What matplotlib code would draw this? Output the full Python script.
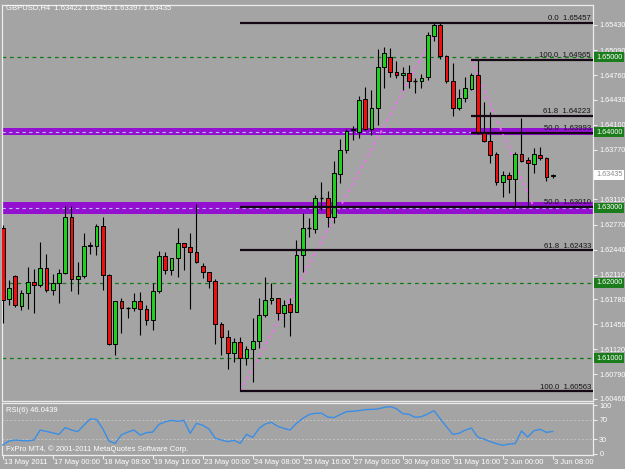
import matplotlib
matplotlib.use('Agg')
import matplotlib.pyplot as plt
from matplotlib.patches import Rectangle
import matplotlib.transforms as mtransforms

plt.rcParams['font.family'] = ['Liberation Sans', 'DejaVu Sans']

# ---------------- data ----------------
opens = [1.62729, 1.61786, 1.62088, 1.61697, 1.61870, 1.62008, 1.61972, 1.62194, 1.61902, 1.61995,
         1.62135, 1.62871, 1.62056, 1.62088, 1.62491, 1.62491, 1.62757, 1.62109, 1.61185, 1.61757,
         1.61672, 1.61664, 1.61757, 1.61657, 1.61514, 1.61893, 1.62353, 1.62167, 1.62327, 1.62526,
         1.62473, 1.62414, 1.62225, 1.62141, 1.62030, 1.61450, 1.61286, 1.61073, 1.61212, 1.60999,
         1.61122, 1.61225, 1.61574, 1.61773, 1.61797, 1.61604, 1.61720, 1.61618, 1.62371, 1.62725,
         1.62712, 1.63134, 1.63134, 1.62871, 1.63446, 1.63761, 1.64031, 1.64000, 1.64438, 1.64044,
         1.64319, 1.64871, 1.64996, 1.64797, 1.64757, 1.64788, 1.64685, 1.64677, 1.64738, 1.65283,
         1.65425, 1.65017, 1.64685, 1.64327, 1.64460, 1.64575, 1.64761, 1.63987, 1.63885, 1.63708,
         1.63336, 1.63433, 1.63380, 1.63708, 1.63629, 1.63579, 1.63699, 1.63655, 1.63422]
highs = [1.62769, 1.62039, 1.62105, 1.61906, 1.62215, 1.62185, 1.62547, 1.62384, 1.62121, 1.62181,
         1.63021, 1.63021, 1.62282, 1.62659, 1.62547, 1.62785, 1.62871, 1.62121, 1.61757, 1.61797,
         1.61684, 1.61866, 1.61883, 1.61707, 1.61995, 1.62424, 1.62414, 1.62335, 1.62736, 1.62530,
         1.62659, 1.63048, 1.62260, 1.62145, 1.62048, 1.61485, 1.61371, 1.61270, 1.61278, 1.61166,
         1.61530, 1.61797, 1.62082, 1.61995, 1.61800, 1.61773, 1.61800, 1.62570, 1.62924, 1.62858,
         1.63167, 1.63344, 1.63221, 1.63619, 1.63907, 1.64040, 1.64084, 1.64482, 1.64606, 1.64562,
         1.65102, 1.65137, 1.65116, 1.64947, 1.64863, 1.64894, 1.64717, 1.64774, 1.65336, 1.65448,
         1.65457, 1.65030, 1.64924, 1.64575, 1.64738, 1.64792, 1.64965, 1.64406, 1.64274, 1.63743,
         1.63490, 1.63477, 1.63743, 1.64186, 1.63676, 1.63788, 1.63809, 1.63676, 1.63453]
lows = [1.61468, 1.61707, 1.61684, 1.61640, 1.61650, 1.61600, 1.61950, 1.61883, 1.61839, 1.61733,
        1.62114, 1.61893, 1.61852, 1.62061, 1.62384, 1.62371, 1.61906, 1.61175, 1.61043, 1.61339,
        1.61530, 1.61626, 1.61308, 1.61441, 1.61375, 1.61862, 1.62114, 1.62105, 1.62082, 1.62171,
        1.61650, 1.62264, 1.62069, 1.61939, 1.61189, 1.61043, 1.60853, 1.60954, 1.60563, 1.60910,
        1.60688, 1.61132, 1.61551, 1.61720, 1.61507, 1.61418, 1.61299, 1.61614, 1.62145, 1.62614,
        1.62667, 1.62969, 1.62746, 1.62792, 1.63331, 1.63729, 1.63898, 1.63920, 1.64030, 1.63964,
        1.64097, 1.64588, 1.64738, 1.64725, 1.64562, 1.64584, 1.64518, 1.64584, 1.64695, 1.65217,
        1.64969, 1.64659, 1.64217, 1.64296, 1.64406, 1.64562, 1.63975, 1.63875, 1.63588, 1.63300,
        1.63145, 1.63198, 1.63013, 1.63610, 1.63013, 1.63456, 1.63632, 1.63357, 1.63397]
closes = [1.61773, 1.61936, 1.61703, 1.61870, 1.62008, 1.61972, 1.62194, 1.61902, 1.61995, 1.62135,
          1.62871, 1.62056, 1.62088, 1.62491, 1.62501, 1.62757, 1.62109, 1.61185, 1.61757, 1.61664,
          1.61668, 1.61757, 1.61650, 1.61514, 1.61893, 1.62353, 1.62167, 1.62327, 1.62526, 1.62473,
          1.62414, 1.62273, 1.62141, 1.62030, 1.61450, 1.61286, 1.61073, 1.61212, 1.60999, 1.61122,
          1.61225, 1.61574, 1.61773, 1.61797, 1.61604, 1.61707, 1.61618, 1.62371, 1.62725, 1.62729,
          1.63134, 1.63136, 1.62871, 1.63460, 1.63761, 1.64017, 1.64044, 1.64429, 1.64044, 1.64319,
          1.64871, 1.65049, 1.64797, 1.64757, 1.64788, 1.64685, 1.64691, 1.64725, 1.65292, 1.65425,
          1.65017, 1.64685, 1.64327, 1.64460, 1.64584, 1.64761, 1.63987, 1.63885, 1.63699, 1.63336,
          1.63433, 1.63380, 1.63708, 1.63623, 1.63596, 1.63708, 1.63655, 1.63410, 1.63435]
rsi = [17.7, 26, 28, 27, 26.5, 28, 49, 46, 43, 40,
       54, 49, 45.5, 59, 72, 71, 52, 26, 21, 39,
       44.5, 49, 38.5, 43.4, 44.6, 60.6, 66, 69, 67, 69,
       42, 62.8, 59, 51, 32, 28, 24.7, 27.5, 21.2, 40,
       33.6, 52, 61.4, 65, 56.6, 52.4, 49, 62.8, 73, 81,
       83.7, 84, 76, 74.7, 81, 87.2, 88, 89.3, 91.4, 92,
       92.7, 96, 97.6, 93.4, 83, 81.6, 75.3, 76.7, 82.3, 89.3,
       72.6, 56, 40, 42, 48.8, 53, 34.3, 30, 24.7, 20.5,
       17, 19.8, 20.5, 47, 34.3, 47.6, 50.4, 44, 46.04]

time_labels = ["13 May 2011", "17 May 00:00", "18 May 08:00", "19 May 16:00", "23 May 00:00",
               "24 May 08:00", "25 May 16:00", "27 May 00:00", "30 May 08:00", "31 May 16:00",
               "2 Jun 00:00", "3 Jun 08:00"]
price_ticks = [1.65430, 1.65090, 1.64760, 1.64430, 1.64100, 1.63770, 1.63110, 1.62770,
               1.62440, 1.62110, 1.61780, 1.61450, 1.61120, 1.60790, 1.60460]
level_tags = [1.65, 1.64, 1.63, 1.62, 1.61]
current_price = 1.63435
rsi_ticks = [100, 70, 30, 0]

fib1_levels = [0.0, 50.0, 61.8, 100.0]
fib1_prices = [1.65457, 1.63010, 1.62433, 1.60563]
fib1_start = 38
fib1_diag = ([38, 70], [1.60563, 1.65457])
fib2_levels = [100.0, 61.8, 50.0]
fib2_prices = [1.64965, 1.64223, 1.63993]
fib2_start = 75
fib2_diag = ([75, 84.9], [1.64965, 1.63021])

bands = [(1.63964, 1.64060), (1.62911, 1.63079)]
band_lines = [1.64, 1.63]

# ---------------- style ----------------
BG = '#a4a4a4'
FRAME = '#ececec'
UP = '#1fd01f'
DN = '#ee1010'
GRN = '#0f7a0f'
PURP = '#9410d0'
W, H = 625, 469
FS = 5.2

fig = plt.figure(figsize=(6.25, 4.69), dpi=100)
fig.patch.set_facecolor(BG)

def fx(px):
    return px / W

def fy(py):
    return 1 - py / H

ax = fig.add_axes([fx(2), fy(401), fx(591), 396 / H])
ax.set_facecolor(BG)
ax.set_xlim(-0.112, 94.45)
ax.set_ylim(1.60432, 1.65691)

# bands
for lo, hi in bands:
    ax.axhspan(lo, hi, color=PURP, lw=0, zorder=1)
# green level lines
for lv in level_tags:
    if lv in band_lines:
        ax.axhline(lv, color='#b8c0ff', lw=0.8, ls=(0, (3, 3)), zorder=1.5)
    else:
        ax.axhline(lv, color=GRN, lw=0.9, ls=(0, (3, 3)), zorder=1.5)

# candles
bw = 0.62
for i in range(len(opens)):
    o, h, l, c = opens[i], highs[i], lows[i], closes[i]
    ax.vlines(i, l, h, color='black', lw=0.8, zorder=3)
    if abs(c - o) < 0.00007:
        ax.hlines(o, i - bw / 2, i + bw / 2, color='black', lw=1.0, zorder=4)
    else:
        col = UP if c > o else DN
        ax.add_patch(Rectangle((i - bw / 2, min(o, c)), bw, abs(c - o), facecolor=col,
                               edgecolor='black', lw=0.7, zorder=4))

# fibonacci
xr = ax.get_xlim()[1]
trx = mtransforms.blended_transform_factory(ax.transAxes, ax.transData)
for lvls, prices, start in [(fib1_levels, fib1_prices, fib1_start), (fib2_levels, fib2_prices, fib2_start)]:
    for lv, p in zip(lvls, prices):
        ax.hlines(p, start, xr, color='#140814', lw=1.6, zorder=5)
        ax.text(0.9966, p + 0.00008, f"{lv:.1f}  {p:.5f}", transform=trx, ha='right', va='bottom',
                fontsize=5.6, color='#141414', zorder=6)
ax.plot(fib1_diag[0], fib1_diag[1], color='#f26ef2', lw=1.2, ls=(0, (2, 2)), zorder=2.5)
ax.plot(fib2_diag[0], fib2_diag[1], color='#f26ef2', lw=1.2, ls=(0, (2, 2)), zorder=2.5)

# axes styling
ax.set_xticks([])
ax.yaxis.tick_right()
ax.set_yticks(price_ticks)
ax.set_yticklabels([f"{p:.5f}" for p in price_ticks])
ax.tick_params(axis='y', colors=FRAME, length=3, width=0.8, pad=1.5, labelsize=FS, labelcolor='white')
for s in ax.spines.values():
    s.set_color(FRAME)
    s.set_linewidth(0.9)

# tags on right
trf = mtransforms.blended_transform_factory(fig.transFigure, ax.transData)
for lv in level_tags:
    ax.text(fx(596), lv, f"{lv:.5f}", transform=trf, ha='left', va='center', fontsize=FS,
            color='white', bbox=dict(boxstyle='square,pad=0.22', fc='#1a7c1a', ec='none'), zorder=10,
            clip_on=False)
ax.text(fx(596), current_price, f"{current_price:.5f}", transform=trf, ha='left', va='center',
        fontsize=FS, color='#8c8c8c', bbox=dict(boxstyle='square,pad=0.22', fc='white', ec='none'),
        zorder=10, clip_on=False)

fig.text(fx(6), fy(8), "GBPUSD,H4  1.63422 1.63453 1.63397 1.63435", color='white', fontsize=5.5,
         ha='left', va='center')

# RSI panel
ar = fig.add_axes([fx(2), fy(455), fx(591), 52 / H])
ar.set_facecolor(BG)
ar.set_xlim(-0.112, 94.45)
ar.set_ylim(-3.1, 105.2)
ar.plot(range(len(rsi)), rsi, color='#3a8ee6', lw=1.0, zorder=3)
for lv in (70, 30):
    ar.axhline(lv, color='#c4c4c4', lw=0.7, ls=(0, (2, 2)), zorder=1)
ar.yaxis.tick_right()
ar.set_yticks(rsi_ticks)
ar.set_yticklabels([str(t) for t in rsi_ticks])
ar.tick_params(axis='y', colors=FRAME, length=3, width=0.8, pad=1.5, labelsize=FS, labelcolor='white')
ar.set_xticks(list(range(0, 89, 8)))
ar.set_xticklabels([])
ar.tick_params(axis='x', colors=FRAME, length=3, width=0.8)
for s in ar.spines.values():
    s.set_color(FRAME)
    s.set_linewidth(0.9)
ar.text(0.006, 0.86, "RSI(6) 46.0439", transform=ar.transAxes, color='white', fontsize=5.5,
        ha='left', va='center')
ar.text(0.006, 0.12, "FxPro MT4, \u00a9 2001-2011 MetaQuotes Software Corp.", transform=ar.transAxes,
        color='white', fontsize=5.5, ha='left', va='center')

for k, lab in enumerate(time_labels):
    i = k * 8
    xpx = 2.7 + 6.25 * i + 1.5
    fig.text(fx(xpx), fy(462.5), lab, color='white', fontsize=5.5, ha='left', va='center')

fig.savefig('out.png', dpi=100, facecolor=BG)
